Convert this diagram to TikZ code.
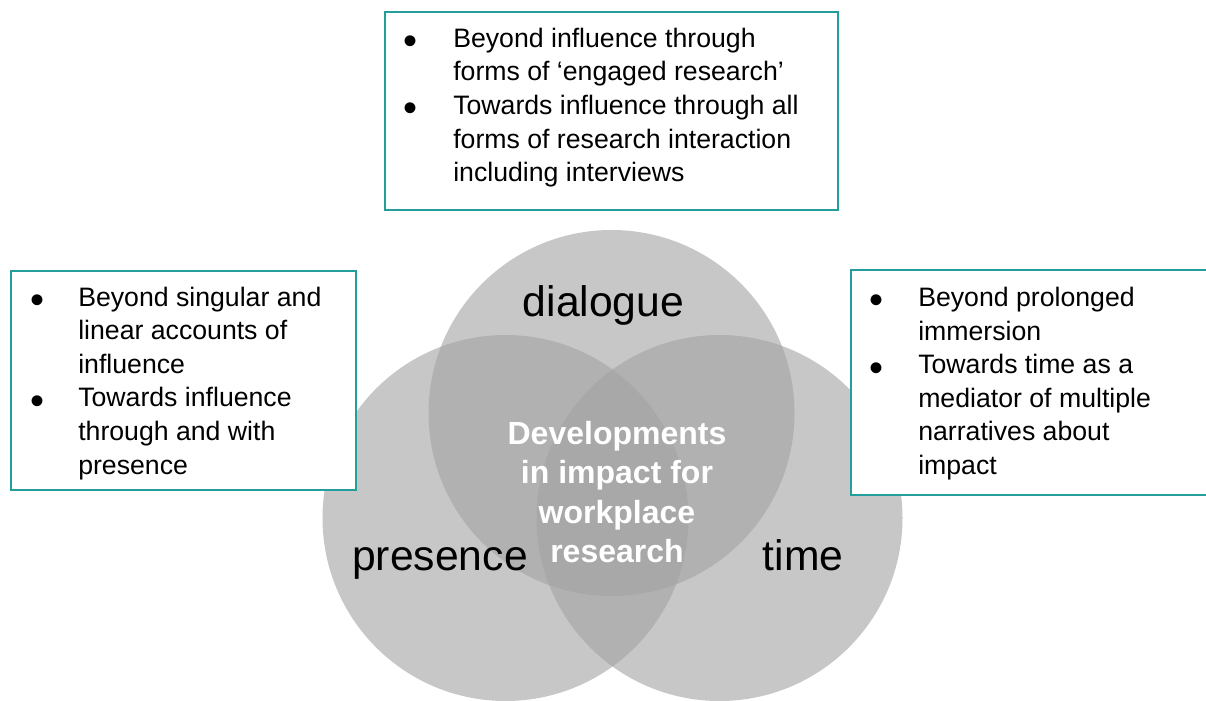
\documentclass[tikz,border=0pt]{standalone}
\usepackage{fontspec}
\setmainfont{Liberation Sans}
\definecolor{tealline}{RGB}{36,158,156}
\definecolor{venngray}{RGB}{163,163,163}
% a larger, lower bullet mark
\newcommand{\listdot}{\raisebox{-5.5pt}{\scalebox{1.5}{\textbullet}}}
\begin{document}
\begin{tikzpicture}[x=0.75pt,y=-0.75pt,
  venn/.style={circle,inner sep=0pt,minimum size=274.5pt,fill=venngray,fill opacity=0.6,text opacity=1},
  infobox/.style={rectangle,draw=tealline,line width=1.5pt,fill=white,inner sep=0pt,anchor=north west},
  listtext/.style={inner sep=0pt,anchor=base west,font=\fontsize{20}{25.2}\selectfont},
  setname/.style={inner sep=0pt,anchor=base,font=\fontsize{32}{38}\selectfont},
  coretext/.style={inner sep=0pt,anchor=base,text=white,font=\bfseries\fontsize{24}{29.6}\selectfont}]
\useasboundingbox (0,0) rectangle (1206,700);
\clip (0,0) rectangle (1206,700);
\fill[white] (0,0) rectangle (1206,700);

% three overlapping circles
\node[venn] (dlg) at (611.5,413) {};
\node[venn] (pres) at (505.5,518) {};
\node[venn] (tim) at (719.5,518) {};

% circle names and the shared centre
\node[setname] (dlgname) at (603.5,316) {dialogue};
\node[setname] (presname) at (440,570) {presence};
\node[setname] (timname) at (803,570) {time};
\node[coretext] (core) at (617,444.5) {\begin{tabular}[t]{@{}c@{}}Developments\\in impact for\\workplace\\research\end{tabular}};

% bullet boxes
\node[infobox,minimum width=339.75pt,minimum height=148.5pt] (topbox) at (384,11) {};
\node[listtext] (toptext) at (403,47.3) {\begin{tabular}[t]{@{}p{37.5pt}@{}l@{}}
\listdot & Beyond influence through\\
 & forms of ‘engaged research’\\
\listdot & Towards influence through all\\
 & forms of research interaction\\
 & including interviews
\end{tabular}};

\node[infobox,minimum width=258.75pt,minimum height=164.25pt] (leftbox) at (10,270) {};
\node[listtext] (lefttext) at (30,306) {\begin{tabular}[t]{@{}p{36pt}@{}l@{}}
\listdot & Beyond singular and\\
 & linear accounts of\\
 & influence\\
\listdot & Towards influence\\
 & through and with\\
 & presence
\end{tabular}};

\node[infobox,minimum width=280pt,minimum height=168.75pt] (rightbox) at (850,269) {};
\node[listtext] (righttext) at (869,306.5) {\begin{tabular}[t]{@{}p{36.75pt}@{}l@{}}
\listdot & Beyond prolonged\\
 & immersion\\
\listdot & Towards time as a\\
 & mediator of multiple\\
 & narratives about\\
 & impact
\end{tabular}};
\end{tikzpicture}
\end{document}
